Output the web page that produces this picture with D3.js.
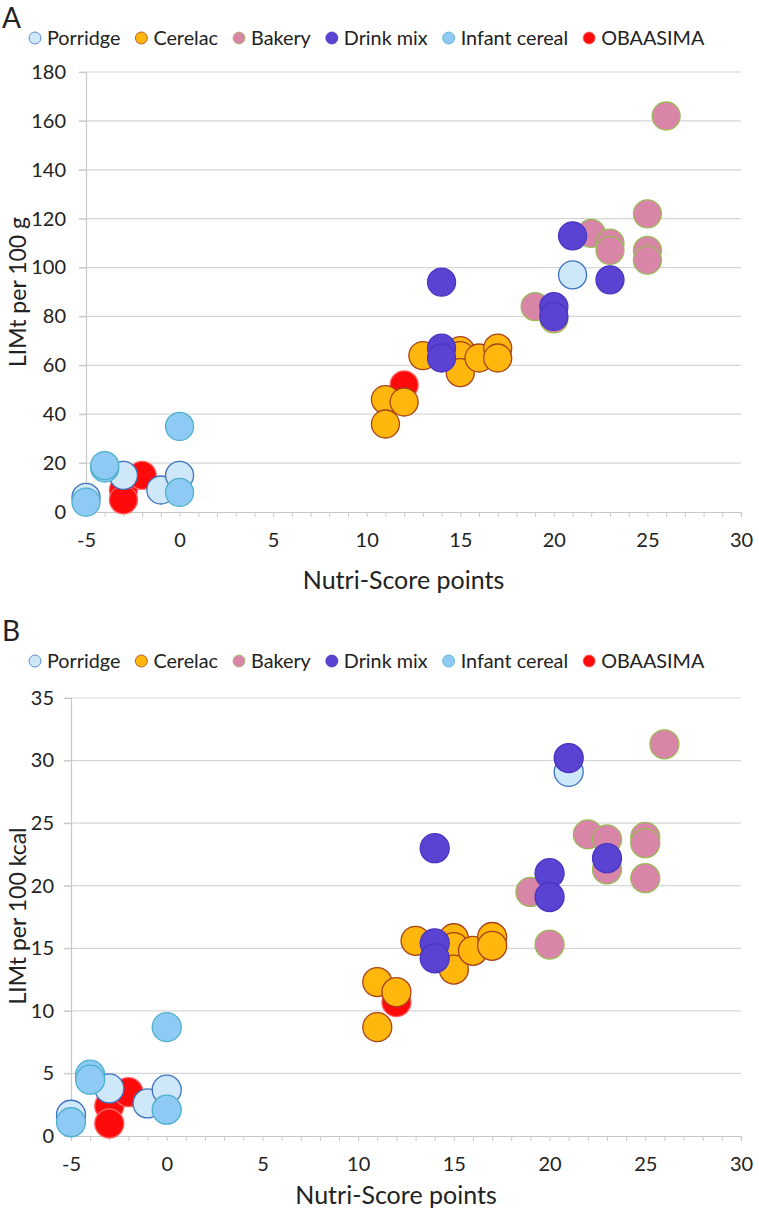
<!DOCTYPE html>
<html><head><meta charset="utf-8">
<script src="https://cdn.jsdelivr.net/npm/d3@7"></script>
<style>body{margin:0;background:#fff}svg{display:block}text{font-family:Lato,"Open Sans",sans-serif;fill:#222}</style>
</head><body><div id="chart"></div>
<script>
// ---- data ----
const seriesNames = ["Porridge","Cerelac","Bakery","Drink mix","Infant cereal","OBAASIMA"];
const drawOrder = ["OBAASIMA","Cerelac","Bakery","Porridge","Drink mix","Infant cereal"];
const xTicks = [-5,0,5,10,15,20,25,30];
const yTicksA = [0,20,40,60,80,100,120,140,160,180];
const yTicksB = [0,5,10,15,20,25,30,35];

// Nutri-Score points per product (same products in both panels)
const porridgeX = [-5,-3,-1,0,21];
const cerelacX = [11,11,12,13,15,15,15,16,17,17];
const bakeryX = [19,20,22,23,23,25,25,25,26];
const drinkX = [14,14,14,20,20,21,23];
const infantX = [-5,-4,-4,0,0];
const obaasimaX = [-3,-3,-2,12];

// Panel A: LIMt per 100 g
const porridgeA = [6,15,9,15,97];
const cerelacA = [46,36,45,64,66,64,57,63,67,63];
const bakeryA = [84,79,114,110,107,122,107,103,162];
const drinkA = [94,67,63,84,80,113,95];
const infantA = [4,18,19,35,8];
const obaasimaA = [9,5,15,52];

// Panel B: LIMt per 100 kcal
const porridgeB = [1.7,3.8,2.6,3.7,29.1];
const cerelacB = [12.3,8.7,11.5,15.6,15.8,15.1,13.3,14.8,15.9,15.2];
const bakeryB = [19.5,15.3,24.1,23.7,21.3,23.9,23.4,20.6,31.3];
const drinkB = [23.0,15.4,14.2,21.0,19.1,30.2,22.2];
const infantB = [1.1,4.9,4.5,8.7,2.1];
const obaasimaB = [2.4,1.0,3.5,10.7];

const fills = {"Porridge":"#cfe8f9","Cerelac":"#ffb60d","Bakery":"#d985a8","Drink mix":"#5a42d2","Infant cereal":"#8ecaf3","OBAASIMA":"#ff0a0a"};
const strokes = {"Porridge":"#3c72c0","Cerelac":"#a8421a","Bakery":"#9cba5a","Drink mix":"#4a35c0","Infant cereal":"#4fb0cc","OBAASIMA":"#ff6060"};

function build(ys){
  const xs = {"Porridge":porridgeX,"Cerelac":cerelacX,"Bakery":bakeryX,"Drink mix":drinkX,"Infant cereal":infantX,"OBAASIMA":obaasimaX};
  const out = [];
  drawOrder.forEach(s=>{ xs[s].forEach((x,i)=>out.push({s, x, y: ys[s][i]})); });
  return out;
}
const dataA = build({"Porridge":porridgeA,"Cerelac":cerelacA,"Bakery":bakeryA,"Drink mix":drinkA,"Infant cereal":infantA,"OBAASIMA":obaasimaA});
const dataB = build({"Porridge":porridgeB,"Cerelac":cerelacB,"Bakery":bakeryB,"Drink mix":drinkB,"Infant cereal":infantB,"OBAASIMA":obaasimaB});

const W = 759, H = 1215;
const svg = d3.select("#chart").append("svg").attr("width",W).attr("height",H);

function panel(cfg){
  const g = svg.append("g");
  const x = d3.scaleLinear().domain([-5,30]).range([cfg.left, cfg.right]);
  const y = d3.scaleLinear().domain([0, cfg.ymax]).range([cfg.bottom, cfg.top]);

  // panel letter
  g.append("text").attr("x",2).attr("y",cfg.letterY).attr("font-size",28).text(cfg.letter);

  // legend
  const lg = g.append("g").attr("transform",`translate(0,${cfg.legendY})`);
  let cx = cfg.legendX;
  seriesNames.forEach(s=>{
    lg.append("circle").attr("cx",cx).attr("cy",0).attr("r",6)
      .attr("fill",fills[s]).attr("stroke",strokes[s]).attr("stroke-width",0.8);
    const t = lg.append("text").attr("x",cx+12).attr("y",7).attr("font-size",19.8).text(s);
    cx += 12 + t.node().getComputedTextLength() + 21;
  });

  // gridlines
  g.append("g").selectAll("line").data(cfg.yTicks.filter(d=>d>0)).join("line")
    .attr("x1",cfg.left-7).attr("x2",cfg.right).attr("y1",d=>y(d)).attr("y2",d=>y(d))
    .attr("stroke","#d6d6d6").attr("stroke-width",1.2);

  // y axis
  const ya = g.append("g").attr("transform",`translate(${cfg.left},0)`)
    .call(d3.axisLeft(y).tickValues(cfg.yTicks).tickSize(7).tickPadding(cfg.yPad));
  ya.select(".domain").attr("stroke","#c8c8c8").attr("stroke-width",1.2);
  ya.selectAll(".tick line").attr("stroke","#c8c8c8");
  ya.selectAll("text").attr("font-size",20).attr("font-family","Lato").attr("fill","#222");

  // x axis with minor ticks
  const xa = g.append("g").attr("transform",`translate(0,${cfg.bottom})`)
    .call(d3.axisBottom(x).tickValues(d3.range(-5,31,1)).tickSize(5).tickFormat(d=>xTicks.includes(d)?d3.format("")(d).replace("−","-"):"").tickPadding(16));
  xa.select(".domain").attr("stroke","#c8c8c8").attr("stroke-width",1.2);
  xa.selectAll(".tick line").attr("stroke","#c8c8c8");
  xa.selectAll("text").attr("font-size",20).attr("font-family","Lato").attr("fill","#222");

  // axis titles
  g.append("text").attr("x",(cfg.left+cfg.right)/2 - 10).attr("y",cfg.xTitleY).attr("text-anchor","middle")
    .attr("font-size",25).text("Nutri-Score points");
  g.append("text").attr("transform",`translate(${cfg.yTitleX},${cfg.yTitleCY}) rotate(-90)`)
    .attr("text-anchor","middle").attr("font-size",23).text(cfg.yTitle);

  // points
  g.append("g").selectAll("circle").data(cfg.data).join("circle")
    .attr("cx",d=>x(d.x)).attr("cy",d=>y(d.y)).attr("r",cfg.r)
    .attr("fill",d=>fills[d.s]).attr("stroke",d=>strokes[d.s]).attr("stroke-width",1.3);
}

panel({letter:"A", letterY:28, legendY:38, legendX:35, left:86, right:741, top:72, bottom:512, ymax:180,
  yTicks:yTicksA, yPad:13, data:dataA, r:14, xTitleY:589, yTitleX:26, yTitleCY:292, yTitle:"LIMt  per 100 g"});
panel({letter:"B", letterY:641, legendY:661, legendX:35, left:71, right:741, top:698, bottom:1136, ymax:35,
  yTicks:yTicksB, yPad:10, data:dataB, r:14.5, xTitleY:1204, yTitleX:26, yTitleCY:916, yTitle:"LIMt  per 100 kcal"});
</script></body></html>
